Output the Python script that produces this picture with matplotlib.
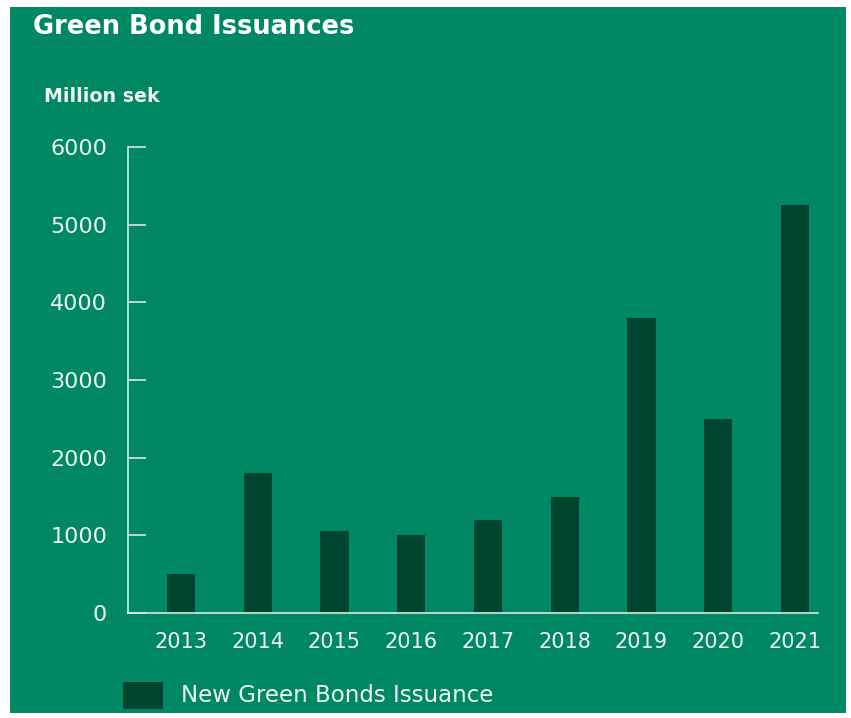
import matplotlib
matplotlib.use("Agg")
import matplotlib.pyplot as plt
from matplotlib.patches import Rectangle

years = ["2013", "2014", "2015", "2016", "2017", "2018", "2019", "2020", "2021"]
issuance = [500, 1800, 1050, 1000, 1200, 1500, 3800, 2500, 5250]
yticks = [0, 1000, 2000, 3000, 4000, 5000, 6000]

BG = "#008763"
BAR = "#00452F"
TXT = "#EEF5F1"
AX = "#D8E8E0"

plt.rcParams['font.family'] = ['DejaVu Sans']

W, H = 851, 718
fig = plt.figure(figsize=(W / 100, H / 100), dpi=100)
fig.patch.set_facecolor("white")
bg = Rectangle((10 / W, 1 - 713 / H), (846 - 10) / W, (713 - 7) / H,
               transform=fig.transFigure, facecolor=BG, edgecolor="none", zorder=-10)
fig.patches.append(bg)

ax = fig.add_axes([128 / W, 105 / H, (818 - 128) / W, (613 - 147) / H])
ax.set_zorder(5)
ax.set_facecolor("none")
x = list(range(len(years)))
ax.bar(x, issuance, width=0.37, color=BAR, zorder=2)
ax.set_xlim(-0.69, 8.3)
ax.set_ylim(0, 6000)
ax.set_yticks(yticks)
ax.set_yticklabels([str(v) for v in yticks])
ax.set_xticks(x)
ax.set_xticklabels(years)
for s in ["top", "right"]:
    ax.spines[s].set_visible(False)
for s in ["left", "bottom"]:
    ax.spines[s].set_color(AX)
    ax.spines[s].set_linewidth(1.2)
ax.tick_params(axis="y", direction="in", length=13, width=1.2, color=AX,
               labelcolor=TXT, labelsize=16, pad=15)
ax.tick_params(axis="x", length=0, labelcolor=TXT, labelsize=15, pad=14)

fig.text(33 / W, 1 - 27 / H, "Green Bond Issuances", color="white", fontsize=18.5,
         fontweight="bold", va="center", ha="left")
fig.text(44 / W, 1 - 96 / H, "Million sek", color=TXT, fontsize=13.7,
         fontweight="bold", va="center", ha="left")

fig.patches.append(Rectangle((123 / W, 1 - 709 / H), 40 / W, 27 / H,
                             transform=fig.transFigure, facecolor=BAR, edgecolor="none", zorder=3))
fig.text(181 / W, 1 - 695 / H, "New Green Bonds Issuance", color=TXT, fontsize=16.5,
         va="center", ha="left")

fig.savefig("out.png", dpi=100, facecolor=fig.get_facecolor())
